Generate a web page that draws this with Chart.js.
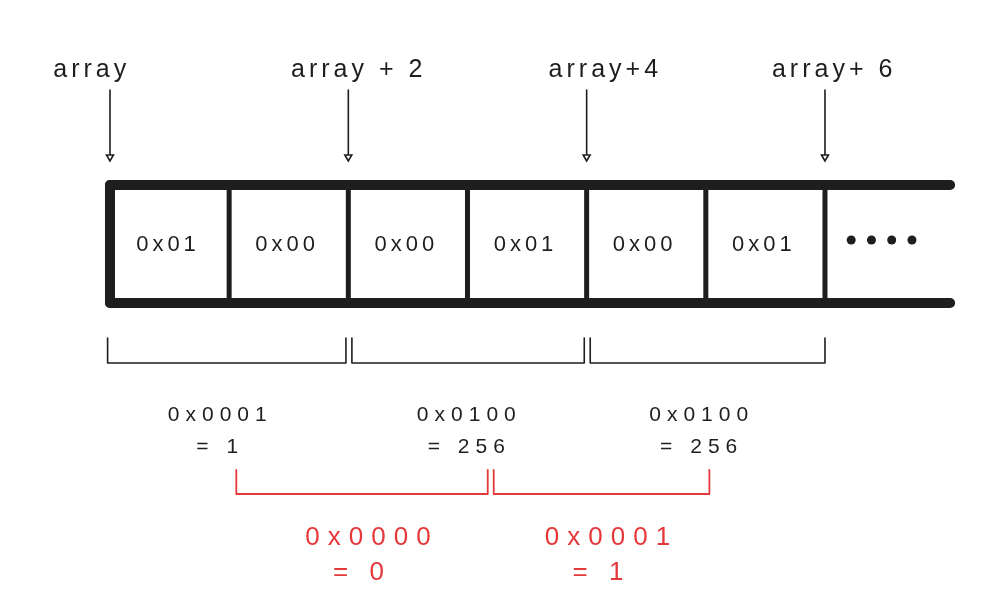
<!DOCTYPE html>
<html>
<head>
<meta charset="utf-8">
<title>array memory</title>
<script src="https://cdn.jsdelivr.net/npm/chart.js@4.4.1/dist/chart.umd.min.js"></script>
<style>
  html, body { margin: 0; background: #fff; }
  #wrap { width: 988px; height: 598px; }
</style>
</head>
<body>
<div id="wrap"><canvas id="memChart"></canvas></div>
<script>
// bytes in memory, one per cell
var byteValues = ['0x01', '0x00', '0x00', '0x01', '0x00', '0x01'];
// pointers drawn above the strip
var pointerOffsets = [0, 2, 4, 6];
var pointerLabels = ['array', 'array + 2', 'array+4', 'array+ 6'];
// aligned 2-byte reads
var alignedHex = ['0x0001', '0x0100', '0x0100'];
var alignedDec = ['= 1', '= 256', '= 256'];
// misaligned 2-byte reads (red)
var misalignedHex = ['0x0000', '0x0001'];
var misalignedDec = ['= 0', '= 1'];
var misalignedSpans = [[1.06, 3.17], [3.22, 5.03]];
var stripEnd = 7.05;
var moreCount = 4;

// vertical layout rows (y axis runs top to bottom)
var ROW = { label: 70, arrowTop: 90, arrowTip: 157, top: 185, mid: 245, bottom: 303,
            braceTop: 338, braceBottom: 363, hex: 415, dec: 447,
            redTop: 470, redBottom: 494, redHex: 538, redDec: 573 };

var INK = '#1e1e1e';
var RED = '#e5383b';

function path(points, color, width, extra) {
  var ds = {
    data: points,
    showLine: true,
    borderColor: color,
    borderWidth: width,
    borderCapStyle: 'round',
    borderJoinStyle: 'round',
    pointRadius: 0,
    tension: 0
  };
  for (var k in extra) ds[k] = extra[k];
  return ds;
}

var datasets = [];

// strip outline
datasets.push(path([{x: 0, y: ROW.top}, {x: stripEnd, y: ROW.top}], INK, 10));
datasets.push(path([{x: 0, y: ROW.bottom}, {x: stripEnd, y: ROW.bottom}], INK, 10));
for (var i = 0; i <= byteValues.length; i++) {
  datasets.push(path([{x: i, y: ROW.top}, {x: i, y: ROW.bottom}], INK, i === 0 ? 10 : 5));
}

// pointer arrows
pointerOffsets.forEach(function (off) {
  datasets.push(path([{x: off, y: ROW.arrowTop}, {x: off, y: ROW.arrowTip}], INK, 1.6, {
    pointRadius: [0, 4],
    pointStyle: 'triangle',
    rotation: 180,
    pointBackgroundColor: '#fff',
    pointBorderColor: INK,
    pointBorderWidth: 1.6
  }));
});

// aligned braces under every 2 bytes
alignedHex.forEach(function (h, g) {
  var a = 2 * g + (g === 0 ? -0.02 : 0.03);
  var b = 2 * g + 2 - (g === alignedHex.length - 1 ? 0 : 0.02);
  datasets.push(path([
    {x: a, y: ROW.braceTop}, {x: a, y: ROW.braceBottom},
    {x: b, y: ROW.braceBottom}, {x: b, y: ROW.braceTop}
  ], INK, 1.6));
});

// red braces for the misaligned reads
misalignedSpans.forEach(function (s) {
  datasets.push(path([
    {x: s[0], y: ROW.redTop}, {x: s[0], y: ROW.redBottom},
    {x: s[1], y: ROW.redBottom}, {x: s[1], y: ROW.redTop}
  ], RED, 1.8));
});

// "...." after the last cell
var dots = [];
for (var d = 0; d < moreCount; d++) dots.push({x: byteValues.length + 0.22 + d * 0.17, y: ROW.mid - 5});
datasets.push({ data: dots, showLine: false, pointRadius: 4.5, pointStyle: 'circle',
  pointBackgroundColor: INK, pointBorderColor: INK, borderWidth: 0 });

var textPlugin = {
  id: 'diagramText',
  afterDatasetsDraw: function (chart) {
    var ctx = chart.ctx, xs = chart.scales.x, ys = chart.scales.y;
    function put(str, xv, yv, size, color, spacing) {
      ctx.save();
      ctx.font = size + 'px "Liberation Sans", "DejaVu Sans", sans-serif';
      ctx.fillStyle = color;
      ctx.letterSpacing = spacing + 'px';
      ctx.textAlign = 'center';
      ctx.textBaseline = 'middle';
      ctx.fillText(str, xs.getPixelForValue(xv) + spacing / 2, ys.getPixelForValue(yv));
      ctx.restore();
    }
    var labelShift = [-0.17, 0.07, 0.14, 0.06];
    pointerLabels.forEach(function (t, i) {
      put(t, pointerOffsets[i] + labelShift[i], ROW.label, 25, INK, 4);
    });
    byteValues.forEach(function (t, i) {
      put(t, i + 0.47, ROW.mid, 22, INK, 4);
    });
    var groupShift = [-0.1, -0.01, -0.06];
    alignedHex.forEach(function (t, g) {
      put(t, 2 * g + 1 + groupShift[g], ROW.hex, 21, INK, 6);
      put(alignedDec[g], 2 * g + 1 + groupShift[g], ROW.dec, 21, INK, 6);
    });
    misalignedHex.forEach(function (t, g) {
      var c = (misalignedSpans[g][0] + misalignedSpans[g][1]) / 2;
      put(t, c + 0.05, ROW.redHex, 26, RED, 8);
      put(misalignedDec[g], c - 0.03, ROW.redDec, 26, RED, 7);
    });
  }
};

new Chart(document.getElementById('memChart'), {
  type: 'scatter',
  data: { datasets: datasets },
  options: {
    responsive: true,
    maintainAspectRatio: false,
    animation: false,
    layout: { padding: 0, autoPadding: false },
    plugins: { legend: { display: false }, tooltip: { enabled: false } },
    scales: {
      x: { type: 'linear', min: -0.923, max: 7.368, display: false },
      y: { type: 'linear', min: 0, max: 598, reverse: true, display: false }
    }
  },
  plugins: [textPlugin]
});
</script>
</body>
</html>
